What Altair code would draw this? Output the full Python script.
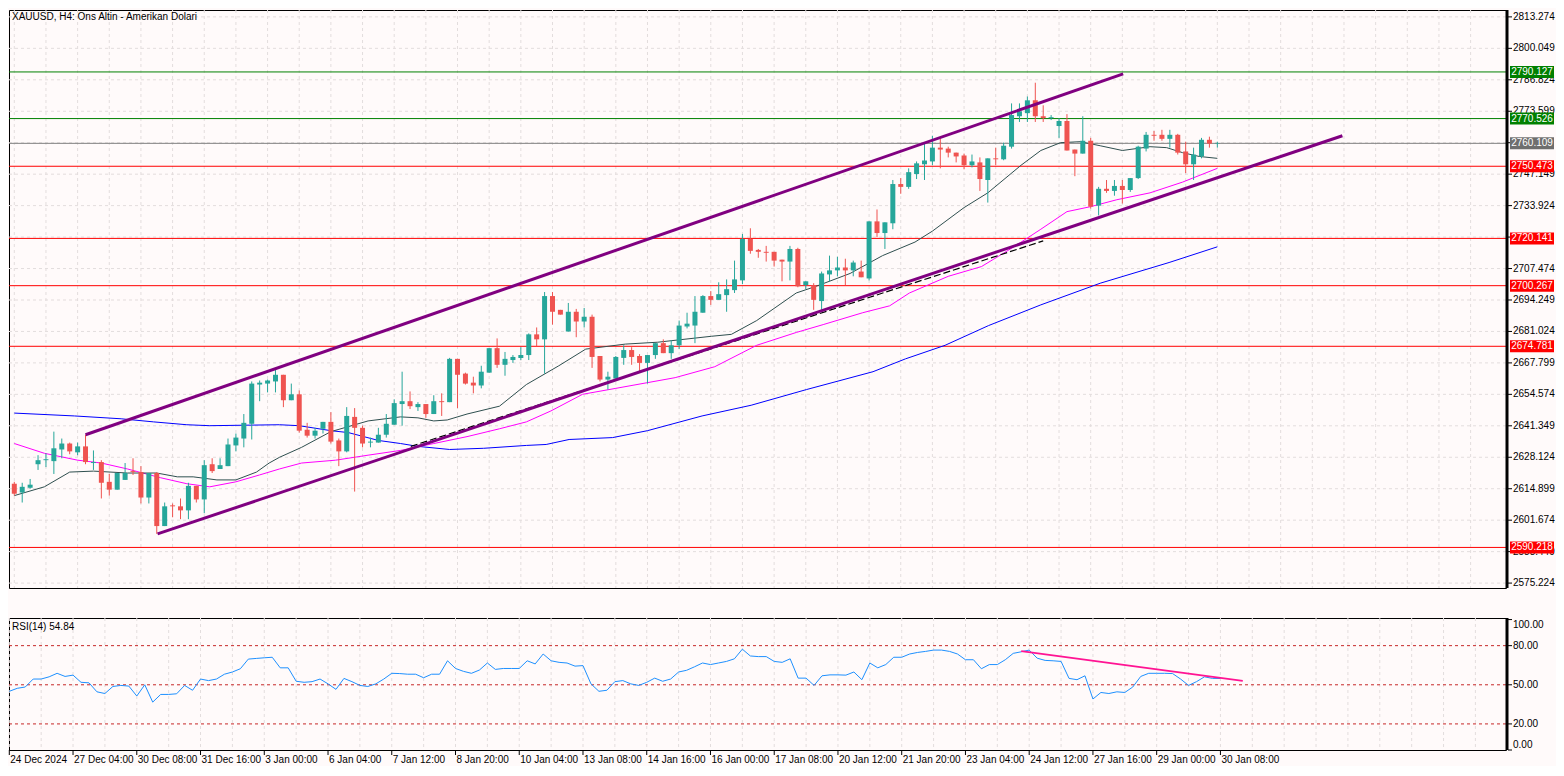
import altair as alt
import pandas as pd

# ---------------- data ----------------
opens = [2617.0, 2613.3, 2615.3, 2625.2, 2626.9, 2626.5, 2631.4, 2633.9, 2630.2, 2632.7,
         2625.7, 2626.1, 2617.8, 2614.5, 2618.6, 2622.3, 2621.9, 2611.2, 2621.5, 2599.2,
         2607.9, 2607.5, 2605.8, 2616.1, 2610.4, 2625.2, 2623.2, 2624.4, 2633.1, 2636.0,
         2642.2, 2658.7, 2659.1, 2660.0, 2662.8, 2652.1, 2654.6, 2639.7, 2637.2, 2640.1,
         2643.0, 2635.2, 2630.6, 2645.1, 2640.5, 2634.3, 2634.3, 2637.6, 2641.8, 2650.5,
         2651.7, 2649.2, 2650.5, 2646.3, 2651.7, 2651.3, 2669.5, 2663.3, 2659.5, 2658.3,
         2663.7, 2674.0, 2667.0, 2669.0, 2669.9, 2671.1, 2679.8, 2677.7, 2695.9, 2690.1,
         2681.0, 2689.3, 2685.2, 2687.2, 2670.7, 2660.8, 2661.2, 2669.9, 2673.2, 2670.7,
         2667.8, 2671.1, 2676.1, 2671.9, 2675.2, 2683.1, 2683.5, 2688.9, 2695.9, 2694.3,
         2696.3, 2698.4, 2702.5, 2719.9, 2715.3, 2714.5, 2714.5, 2711.2, 2710.4, 2715.7,
         2700.5, 2700.5, 2693.8, 2705.0, 2706.7, 2707.9, 2706.7, 2706.2, 2703.3, 2727.3,
         2722.4, 2726.5, 2743.0, 2741.8, 2747.2, 2751.3, 2752.5, 2758.3, 2757.9, 2756.2,
         2755.0, 2750.9, 2752.1, 2744.7, 2753.8, 2753.4, 2758.7, 2771.5, 2772.8, 2778.2,
         2771.5, 2770.7, 2767.4, 2769.5, 2757.5, 2755.8, 2761.2, 2733.9, 2741.0, 2740.1,
         2742.2, 2740.5, 2745.5, 2757.9, 2763.7, 2763.7, 2762.0, 2763.7, 2756.7, 2751.3,
         2754.6, 2761.6, 2759.9]
highs = [2617.8, 2617.4, 2619.0, 2629.0, 2629.8, 2638.9, 2636.0, 2634.3, 2634.3, 2637.6,
         2631.0, 2626.9, 2621.1, 2621.5, 2625.7, 2627.7, 2624.4, 2621.5, 2621.9, 2609.1,
         2608.7, 2610.8, 2617.4, 2616.1, 2626.9, 2627.7, 2627.7, 2636.0, 2638.1, 2646.3,
         2660.0, 2660.4, 2660.8, 2665.3, 2662.8, 2659.1, 2656.2, 2642.6, 2640.5, 2643.0,
         2647.1, 2636.0, 2649.2, 2648.8, 2641.4, 2636.4, 2640.5, 2646.3, 2652.5, 2664.1,
         2655.8, 2651.3, 2650.5, 2654.2, 2655.0, 2669.9, 2669.5, 2663.7, 2662.0, 2666.6,
         2674.0, 2678.1, 2672.4, 2671.1, 2674.4, 2680.2, 2682.7, 2697.6, 2697.6, 2690.1,
         2693.0, 2690.5, 2690.9, 2688.1, 2670.7, 2664.1, 2670.7, 2675.2, 2674.4, 2671.5,
         2671.1, 2676.1, 2677.7, 2677.3, 2685.6, 2688.9, 2695.9, 2696.3, 2698.0, 2701.7,
         2702.9, 2710.8, 2722.0, 2724.4, 2715.7, 2717.0, 2714.5, 2711.2, 2717.0, 2716.2,
         2702.1, 2701.3, 2706.2, 2712.9, 2712.4, 2711.6, 2710.8, 2710.8, 2727.3, 2732.3,
         2726.9, 2744.7, 2745.5, 2749.6, 2752.5, 2760.4, 2763.3, 2762.0, 2758.7, 2756.2,
         2755.8, 2755.4, 2754.2, 2753.8, 2758.3, 2760.4, 2776.9, 2776.9, 2779.8, 2785.6,
         2776.1, 2772.0, 2770.7, 2772.4, 2757.5, 2771.5, 2762.4, 2741.8, 2744.7, 2744.7,
         2744.7, 2745.5, 2759.1, 2764.9, 2765.3, 2765.8, 2765.8, 2764.1, 2760.8, 2758.3,
         2762.4, 2762.9, 2760.8]
lows = [2612.0, 2609.1, 2614.9, 2622.8, 2624.0, 2621.1, 2627.7, 2629.4, 2629.0, 2625.2,
        2622.8, 2610.8, 2612.0, 2614.5, 2618.6, 2620.7, 2608.7, 2608.7, 2595.9, 2599.2,
        2602.9, 2602.1, 2602.1, 2609.1, 2604.6, 2621.5, 2623.2, 2624.4, 2630.6, 2632.3,
        2635.6, 2651.7, 2655.4, 2655.4, 2649.2, 2652.1, 2638.5, 2636.4, 2636.0, 2638.1,
        2633.9, 2624.4, 2630.2, 2613.7, 2632.3, 2632.3, 2634.3, 2636.4, 2641.8, 2641.4,
        2648.4, 2647.6, 2644.7, 2646.3, 2645.5, 2651.3, 2648.8, 2658.7, 2655.0, 2657.1,
        2663.7, 2665.7, 2662.4, 2667.8, 2669.0, 2669.0, 2674.8, 2663.3, 2683.9, 2688.1,
        2681.0, 2678.6, 2682.7, 2665.7, 2660.0, 2656.6, 2661.2, 2667.0, 2667.0, 2664.1,
        2659.1, 2669.5, 2671.9, 2669.5, 2673.6, 2682.3, 2676.1, 2688.9, 2692.2, 2694.3,
        2689.3, 2697.2, 2700.9, 2713.7, 2712.0, 2710.4, 2708.3, 2702.1, 2702.5, 2699.6,
        2698.8, 2690.1, 2690.1, 2702.1, 2704.2, 2700.5, 2704.2, 2703.8, 2702.5, 2720.7,
        2715.7, 2724.0, 2738.9, 2741.0, 2745.1, 2744.7, 2750.9, 2749.6, 2754.2, 2752.1,
        2749.2, 2750.0, 2740.1, 2735.2, 2750.9, 2753.0, 2757.9, 2769.1, 2769.1, 2769.1,
        2769.1, 2769.9, 2762.4, 2757.1, 2746.3, 2755.8, 2732.7, 2729.8, 2739.3, 2738.1,
        2734.8, 2739.7, 2745.1, 2756.7, 2761.2, 2761.2, 2758.3, 2755.4, 2747.6, 2744.7,
        2753.8, 2758.3, 2758.3]
closes = [2612.8, 2615.7, 2616.6, 2626.9, 2627.3, 2631.9, 2633.9, 2630.6, 2632.7, 2626.1,
          2626.1, 2617.4, 2614.5, 2621.5, 2621.5, 2621.9, 2611.2, 2621.5, 2599.2, 2607.5,
          2607.5, 2605.8, 2616.1, 2610.4, 2624.8, 2622.3, 2624.8, 2633.5, 2636.4, 2642.6,
          2659.1, 2659.5, 2660.4, 2662.8, 2652.1, 2654.6, 2639.3, 2637.2, 2639.3, 2643.0,
          2634.7, 2630.6, 2645.5, 2640.5, 2633.9, 2634.7, 2637.6, 2642.2, 2650.9, 2651.7,
          2649.6, 2650.5, 2646.3, 2651.7, 2651.3, 2669.5, 2662.8, 2659.1, 2658.3, 2664.1,
          2674.0, 2667.0, 2669.5, 2670.3, 2671.1, 2679.8, 2677.7, 2695.9, 2689.3, 2688.1,
          2689.3, 2685.2, 2687.2, 2670.3, 2660.8, 2662.0, 2670.3, 2673.2, 2670.3, 2667.8,
          2671.1, 2676.1, 2671.9, 2675.2, 2683.5, 2684.3, 2689.3, 2695.9, 2694.3, 2696.7,
          2698.8, 2702.9, 2719.9, 2714.9, 2714.5, 2714.1, 2710.8, 2710.4, 2715.7, 2700.0,
          2702.1, 2694.3, 2705.4, 2706.7, 2707.9, 2706.7, 2710.0, 2703.8, 2727.3, 2722.4,
          2726.9, 2743.0, 2741.8, 2748.0, 2751.7, 2752.9, 2758.3, 2757.5, 2756.2, 2754.6,
          2750.9, 2752.5, 2745.1, 2753.8, 2753.4, 2759.1, 2772.0, 2773.6, 2778.2, 2771.5,
          2770.7, 2771.1, 2769.5, 2757.1, 2755.8, 2761.2, 2733.5, 2741.0, 2740.1, 2742.2,
          2740.5, 2745.5, 2758.7, 2763.7, 2763.3, 2762.0, 2763.7, 2756.2, 2751.3, 2755.4,
          2761.6, 2760.0, 2760.1]

rsi_values = [45.0, 47.3, 48.3, 54.4, 54.4, 56.1, 58.8, 56.4, 57.4, 51.9,
              51.5, 44.6, 43.3, 48.7, 49.5, 49.0, 41.4, 50.0, 36.7, 42.6,
              42.6, 43.1, 49.5, 45.8, 54.4, 53.2, 54.4, 58.1, 59.8, 62.3,
              69.7, 70.2, 70.7, 71.1, 63.0, 63.0, 52.7, 51.9, 52.4, 54.4,
              50.7, 46.5, 54.9, 52.4, 49.5, 48.7, 50.7, 54.4, 58.8, 58.6,
              58.1, 58.1, 55.4, 58.1, 58.1, 68.4, 62.5, 60.3, 58.8, 61.3,
              66.7, 61.8, 62.5, 62.5, 62.5, 68.4, 66.0, 73.6, 68.4, 67.2,
              66.7, 64.3, 64.7, 50.7, 45.0, 45.8, 52.4, 53.2, 50.7, 49.5,
              51.9, 55.1, 52.7, 54.4, 59.8, 61.1, 63.8, 66.7, 65.5, 66.7,
              67.9, 69.9, 77.3, 72.1, 71.6, 71.6, 67.9, 67.2, 69.9, 55.1,
              55.1, 49.5, 56.9, 57.6, 57.6, 57.4, 59.8, 53.9, 66.7, 63.0,
              65.5, 71.1, 71.1, 73.6, 74.8, 75.6, 76.6, 76.6, 75.6, 73.6,
              69.2, 69.2, 62.3, 65.5, 65.5, 69.2, 74.1, 75.3, 76.6, 70.4,
              68.7, 68.4, 67.9, 54.9, 53.9, 56.9, 39.1, 44.1, 43.3, 44.6,
              44.1, 48.3, 56.4, 58.8, 58.8, 58.8, 58.6, 54.4, 49.5, 52.4,
              56.1, 54.9, 54.84]

time_labels = ["24 Dec 2024", "27 Dec 04:00", "30 Dec 08:00", "31 Dec 16:00", "3 Jan 00:00",
               "6 Jan 04:00", "7 Jan 12:00", "8 Jan 20:00", "10 Jan 04:00", "13 Jan 08:00",
               "14 Jan 16:00", "16 Jan 00:00", "17 Jan 08:00", "20 Jan 12:00", "21 Jan 20:00",
               "23 Jan 04:00", "24 Jan 12:00", "27 Jan 16:00", "29 Jan 00:00", "30 Jan 08:00"]

# price scale ticks; the two fully hidden behind level boxes carry no visible label
price_ticks = [2575.224, 2588.449, 2601.674, 2614.899, 2628.124, 2641.349, 2654.574,
               2667.799, 2681.024, 2694.249, 2707.474, 2720.699, 2733.924, 2747.149,
               2760.374, 2773.599, 2786.824, 2800.049, 2813.274]
hidden_tick_labels = [2720.699, 2760.374]
rsi_mid_ticks = [20, 50, 80]
rsi_top_tick = [100]
rsi_bottom_tick = [0]
rsi_levels = [80, 50, 20]

levels = [2790.127, 2770.526, 2760.109, 2750.473, 2720.141, 2700.267, 2674.781, 2590.218]
level_line_colors = ["#008000", "#008000", "#808080", "#FF0000", "#FF0000", "#FF0000", "#FF0000", "#FF0000"]
level_box_colors = ["#008000", "#008000", "#6E6E6E", "#FF0000", "#FF0000", "#FF0000", "#FF0000", "#FF0000"]

# moving averages (candle index, price)
ma_fast_idx = [0, 3.8, 7, 10, 14.3, 18, 20.6, 22.6, 25.6, 28, 30.6, 32.2, 33.5, 36.3, 40, 44.7,
               48.8, 51, 53, 54.7, 57.2, 61.3, 64.7, 68.8, 72.2, 77.2, 81.3, 88.1, 90.6, 93.8,
               98.8, 101.3, 105.6, 109.7, 113.8, 116, 120, 123, 127.2, 129.7, 132.2, 134.7,
               137.2, 140, 143.5, 145.6, 147.6, 149.7, 152]
ma_fast_val = [2612.0, 2615.7, 2621.9, 2622.3, 2621.5, 2621.5, 2619.9, 2619.9, 2618.6, 2618.6,
               2621.9, 2625.7, 2628.1, 2632.3, 2638.9, 2643.4, 2645.1, 2644.7, 2643.4, 2643.8,
               2646.3, 2649.6, 2658.7, 2666.6, 2673.6, 2675.7, 2676.5, 2679.0, 2679.8, 2685.6,
               2697.2, 2700.0, 2705.4, 2712.9, 2718.6, 2723.2, 2733.1, 2739.3, 2750.9, 2757.1,
               2760.4, 2760.8, 2759.1, 2757.1, 2758.7, 2758.3, 2756.2, 2754.6, 2753.8]
ma_mid_idx = [0, 3.8, 8, 11, 14.3, 18.5, 21.8, 24.7, 28, 31, 33.5, 36.3, 40.6, 44.7, 48.8, 53,
              57.2, 61.3, 64.7, 67.8, 71.8, 76, 83.5, 88.5, 93.8, 98.8, 102.2, 107.2, 110.6,
              113.1, 118, 122.2, 126.3, 129.7, 133, 136, 139.3, 143.5, 147.6, 152]
ma_mid_val = [2633.9, 2629.8, 2626.9, 2625.7, 2623.2, 2619.5, 2617.0, 2615.7, 2617.8, 2620.7,
              2623.2, 2625.7, 2626.9, 2629.0, 2631.0, 2633.9, 2636.8, 2640.1, 2643.0, 2647.6,
              2654.6, 2657.1, 2661.6, 2666.2, 2675.2, 2680.6, 2683.9, 2688.9, 2691.8, 2697.2,
              2704.2, 2708.3, 2716.6, 2724.0, 2731.4, 2733.5, 2736.4, 2739.3, 2743.8, 2749.6]
ma_slow_idx = [0, 7.6, 13.5, 17.6, 21.8, 24.7, 33.5, 36, 40, 42.2, 46, 48.8, 51, 55, 59.3, 64.7,
               67.2, 70.1, 75.6, 80, 86.9, 93.1, 100.1, 108.5, 112.6, 117.6, 123.1, 127.2,
               129.7, 137.2, 145.9, 152]
ma_slow_val = [2646.7, 2645.5, 2644.3, 2643.0, 2641.8, 2641.4, 2641.8, 2641.4, 2639.3, 2638.5,
               2635.2, 2633.9, 2632.7, 2631.4, 2631.9, 2633.1, 2633.5, 2635.6, 2636.4, 2639.3,
               2645.5, 2650.0, 2656.6, 2664.1, 2669.5, 2675.2, 2683.5, 2688.9, 2692.2, 2701.3,
               2710.0, 2716.6]

# drawn trend objects (candle index, value)
channel_upper_idx = [9, 140.1]
channel_upper_val = [2637.6, 2789.3]
channel_lower_idx = [18.1, 167.8]
channel_lower_val = [2595.9, 2763.3]
dashed_line_idx = [50.1, 130]
dashed_line_val = [2632.7, 2719.1]
rsi_trend_idx = [127, 154.8]
rsi_trend_val = [75.8, 53.0]

chart_title = "XAUUSD, H4:  Ons Altin - Amerikan Dolari"

# ---------------- layout / style ----------------
FONT = "Liberation Sans"
FS = 10
BG = "#FFFAFA"
GRID = "#E3DDDD"
UP = "#26A69A"
DOWN = "#EF5350"
W = 1497
H_MAIN = 578
H_RSI = 132
BOX_PATH = "M-1,-0.2727L1,-0.2727L1,0.2727L-1,0.2727Z"

n = len(closes)
candles = pd.DataFrame({"idx": list(range(n)), "open": opens, "high": highs,
                        "low": lows, "close": closes})
candles["dir"] = ["up" if c >= o else "down" for o, c in zip(opens, closes)]

xs = alt.Scale(domain=[-0.0375, 187.84], nice=False, zero=False)
ys = alt.Scale(domain=[2573.16, 2816.17], nice=False, zero=False)
rs = alt.Scale(domain=[0, 101.2], nice=False, zero=False)
dir_color = alt.Color("dir:N", scale=alt.Scale(domain=["up", "down"], range=[UP, DOWN]), legend=None)


def X(f):
    return alt.X(f, scale=xs, axis=None)


def Y(f):
    return alt.Y(f, scale=ys, axis=None)


def R(f):
    return alt.Y(f, scale=rs, axis=None)


def txt(**kw):
    base = dict(font=FONT, fontSize=FS, color="black")
    base.update(kw)
    return base


grid_df = pd.DataFrame({"idx": list(range(0, 188, 4))})
ticks_df = pd.DataFrame({"p": price_ticks})
tick_label_df = pd.DataFrame({"p": [v for v in price_ticks if v not in hidden_tick_labels]})
tick_label_df["label"] = [f"{v:.3f}" for v in tick_label_df["p"]]

# --- main panel ---
vgrid = alt.Chart(grid_df).mark_rule(color=GRID, strokeDash=[3, 3], strokeWidth=1).encode(x=X("idx:Q"))
hgrid = alt.Chart(ticks_df).mark_rule(color=GRID, strokeDash=[3, 3], strokeWidth=1, clip=True).encode(y=Y("p:Q"))

levels_df = pd.DataFrame({"price": levels, "line": level_line_colors, "box": level_box_colors,
                          "label": [f"{v:.3f}" for v in levels]})
level_rules = alt.Chart(levels_df).mark_rule(strokeWidth=1, clip=True).encode(
    y=Y("price:Q"), color=alt.Color("line:N", scale=None))


def line_layer(ix, vals, color, width=1.0, dash=None, yfun=Y):
    df = pd.DataFrame({"idx": ix, "val": vals})
    kw = dict(color=color, strokeWidth=width, clip=True)
    if dash:
        kw["strokeDash"] = dash
    return alt.Chart(df).mark_line(**kw).encode(x=X("idx:Q"), y=yfun("val:Q"))


ma_fast = line_layer(ma_fast_idx, ma_fast_val, "#2F4F4F")
ma_mid = line_layer(ma_mid_idx, ma_mid_val, "#FF00FF")
ma_slow = line_layer(ma_slow_idx, ma_slow_val, "#0000FF")

wicks = alt.Chart(candles).mark_rule(strokeWidth=1, clip=True).encode(
    x=X("idx:Q"), y=Y("low:Q"), y2="high:Q", color=dir_color)
bodies = alt.Chart(candles).mark_bar(size=5, clip=True).encode(
    x=X("idx:Q"), y=Y("open:Q"), y2="close:Q", color=dir_color)

dashed = line_layer(dashed_line_idx, dashed_line_val, "black", 1.2, [7, 3])
ch_up = line_layer(channel_upper_idx, channel_upper_val, "#800080", 3)
ch_lo = line_layer(channel_lower_idx, channel_lower_val, "#800080", 3)

# right price axis (drawn by hand)
y_domain_line = alt.Chart(pd.DataFrame({"a": [0]})).mark_rule(color="black", strokeWidth=3).encode(
    x=alt.value(W + 1), y=alt.value(0), y2=alt.value(H_MAIN))
y_ticks = alt.Chart(ticks_df).mark_rule(color="black", strokeWidth=1).encode(
    x=alt.value(W + 2), x2=alt.value(W + 6), y=Y("p:Q"))
y_labels = alt.Chart(tick_label_df).mark_text(**txt(align="left", baseline="middle")).encode(
    x=alt.value(W + 7), y=Y("p:Q"), text="label:N")

boxes = alt.Chart(levels_df).mark_point(shape=BOX_PATH, size=1936, filled=True, opacity=1,
                                        strokeWidth=0).encode(
    x=alt.value(W + 26), y=Y("price:Q"), color=alt.Color("box:N", scale=None))
box_text = alt.Chart(levels_df).mark_text(**txt(color="white", align="center", baseline="middle")).encode(
    x=alt.value(W + 26), y=Y("price:Q"), text="label:N")

title_text = alt.Chart(pd.DataFrame({"t": [chart_title]})).mark_text(
    **txt(align="left", baseline="middle")).encode(x=alt.value(3), y=alt.value(7), text="t:N")

main = alt.layer(vgrid, hgrid, level_rules, ma_slow, ma_mid, ma_fast, wicks, bodies,
                 dashed, ch_up, ch_lo, y_domain_line, y_ticks, y_labels, boxes, box_text,
                 title_text).properties(width=W, height=H_MAIN)

# --- RSI panel ---
rsi_df = pd.DataFrame({"idx": list(range(n)), "rsi": rsi_values})
rsi_grid = alt.Chart(grid_df).mark_rule(color=GRID, strokeDash=[3, 3], strokeWidth=1).encode(x=X("idx:Q"))
rsi_lvls = alt.Chart(pd.DataFrame({"lvl": rsi_levels})).mark_rule(
    color="#C62828", strokeDash=[3, 3], strokeWidth=1).encode(y=R("lvl:Q"))
rsi_line = alt.Chart(rsi_df).mark_line(color="#1E90FF", strokeWidth=1, clip=True).encode(
    x=X("idx:Q"), y=R("rsi:Q"))
rsi_tr = line_layer(rsi_trend_idx, rsi_trend_val, "#FF1493", 2, yfun=R)
rsi_label = alt.Chart(pd.DataFrame({"t": [f"RSI(14) {rsi_values[-1]:.2f}"]})).mark_text(
    **txt(align="left", baseline="middle")).encode(x=alt.value(3), y=alt.value(9), text="t:N")

rsi_all_ticks = rsi_bottom_tick + rsi_mid_ticks + rsi_top_tick
r_domain_line = alt.Chart(pd.DataFrame({"a": [0]})).mark_rule(color="black", strokeWidth=3).encode(
    x=alt.value(W + 1), y=alt.value(0), y2=alt.value(H_RSI))
r_ticks = alt.Chart(pd.DataFrame({"v": rsi_all_ticks})).mark_rule(color="black", strokeWidth=1).encode(
    x=alt.value(W + 2), x2=alt.value(W + 6), y=R("v:Q"))


def rsi_tick_labels(vals, baseline):
    df = pd.DataFrame({"v": vals, "label": [f"{v:.2f}" for v in vals]})
    return alt.Chart(df).mark_text(**txt(align="left", baseline=baseline)).encode(
        x=alt.value(W + 7), y=R("v:Q"), text="label:N")


r_lab_mid = rsi_tick_labels(rsi_mid_ticks, "middle")
r_lab_top = rsi_tick_labels(rsi_top_tick, "top")
r_lab_bot = rsi_tick_labels(rsi_bottom_tick, "bottom")

# time axis (drawn by hand)
time_df = pd.DataFrame({"idx": [8 * k for k in range(len(time_labels))], "label": time_labels})
t_ticks = alt.Chart(time_df).mark_rule(color="black", strokeWidth=1).encode(
    x=X("idx:Q"), y=alt.value(H_RSI), y2=alt.value(H_RSI + 5))
t_labels = alt.Chart(time_df).mark_text(**txt(align="left", baseline="top", dx=1)).encode(
    x=X("idx:Q"), y=alt.value(H_RSI + 5), text="label:N")

rsi_chart = alt.layer(rsi_grid, rsi_lvls, rsi_line, rsi_tr, rsi_label, r_domain_line, r_ticks,
                      r_lab_mid, r_lab_top, r_lab_bot, t_ticks, t_labels).properties(width=W, height=H_RSI)

chart = alt.vconcat(main, rsi_chart, spacing=26).resolve_scale(
    x="independent", y="independent", color="independent").configure_view(
    stroke="black", strokeWidth=1, fill=BG).properties(background=BG, padding=0)

chart.save("out.html", embed_options={"renderer": "svg", "actions": False})
